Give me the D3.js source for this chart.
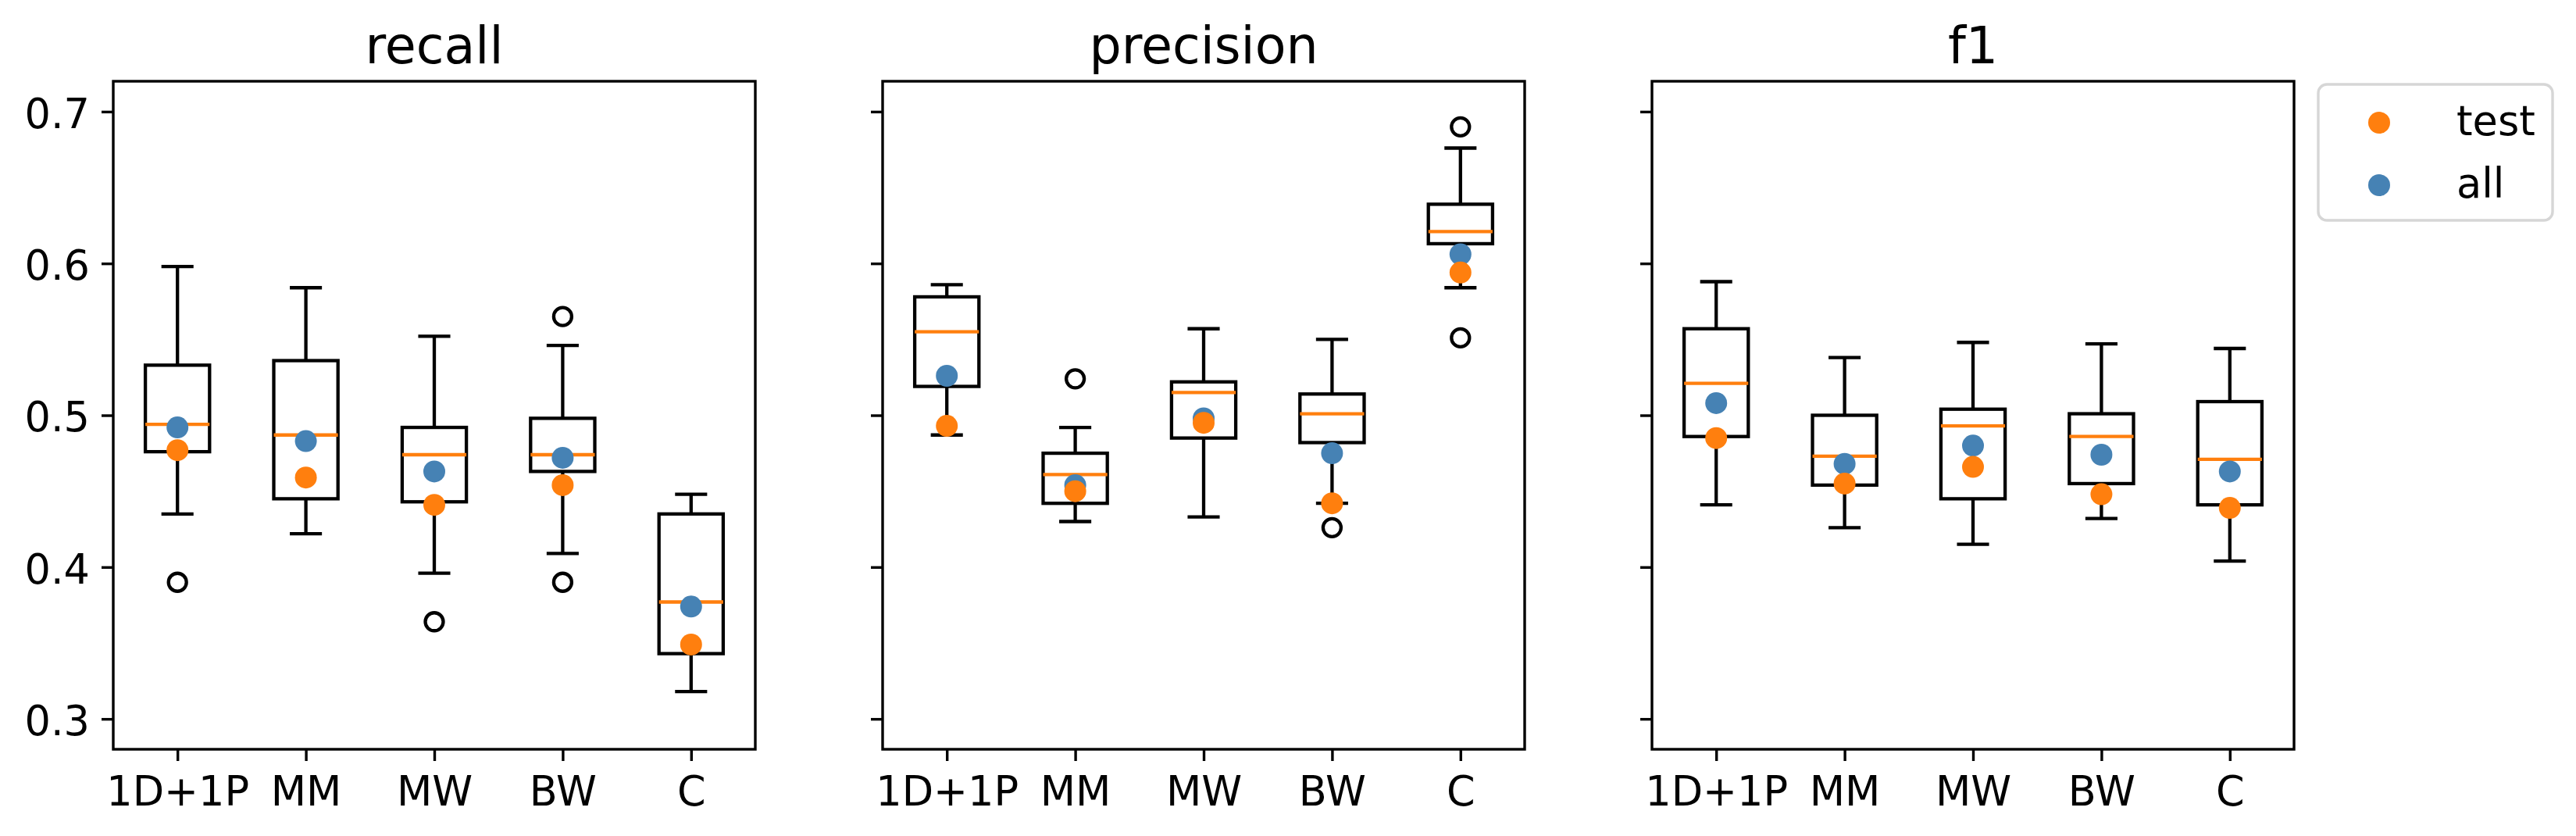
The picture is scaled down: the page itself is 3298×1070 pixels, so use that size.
<!DOCTYPE html>
<html>
<head>
<meta charset="utf-8">
<script src="https://cdn.jsdelivr.net/npm/d3@7"></script>
<style>
  body { margin: 0; background: #fff; }
  text { font-family: "DejaVu Sans", sans-serif; fill: #000; }
</style>
</head>
<body>
<svg id="chart" width="3298" height="1070"></svg>
<script>
// categories on the x axis of every panel
var categories = ['1D+1P', 'MM', 'MW', 'BW', 'C'];
var metrics = ['recall', 'precision', 'f1'];
var yTicks = [0.3, 0.4, 0.5, 0.6, 0.7];

// box stats per category: [low whisker, q1, median, q3, high whisker]
var recallBoxes = [
    [0.435, 0.476, 0.494, 0.533, 0.598],
    [0.422, 0.445, 0.487, 0.536, 0.584],
    [0.396, 0.443, 0.474, 0.492, 0.552],
    [0.409, 0.463, 0.474, 0.498, 0.546],
    [0.318, 0.343, 0.377, 0.435, 0.448]
];
var recallFliers = [[0.390], [], [0.364], [0.565, 0.390], []];
var recallTest = [0.477, 0.459, 0.441, 0.454, 0.349];
var recallAll = [0.492, 0.483, 0.463, 0.472, 0.374];

var precisionBoxes = [
    [0.487, 0.519, 0.555, 0.578, 0.586],
    [0.430, 0.442, 0.461, 0.475, 0.492],
    [0.433, 0.485, 0.515, 0.522, 0.557],
    [0.442, 0.482, 0.501, 0.514, 0.550],
    [0.584, 0.613, 0.621, 0.639, 0.676]
];
var precisionFliers = [[], [0.524], [], [0.426], [0.690, 0.551]];
var precisionTest = [0.493, 0.450, 0.495, 0.442, 0.594];
var precisionAll = [0.526, 0.454, 0.498, 0.475, 0.606];

var f1Boxes = [
    [0.441, 0.486, 0.521, 0.557, 0.588],
    [0.426, 0.454, 0.473, 0.500, 0.538],
    [0.415, 0.445, 0.493, 0.504, 0.548],
    [0.432, 0.455, 0.486, 0.501, 0.547],
    [0.404, 0.441, 0.471, 0.509, 0.544]
];
var f1Fliers = [[], [], [], [], []];
var f1Test = [0.485, 0.455, 0.466, 0.448, 0.439];
var f1All = [0.508, 0.468, 0.480, 0.474, 0.463];

var panels = [
    {boxes: recallBoxes, fliers: recallFliers, test: recallTest, all: recallAll},
    {boxes: precisionBoxes, fliers: precisionFliers, test: precisionTest, all: precisionAll},
    {boxes: f1Boxes, fliers: f1Fliers, test: f1Test, all: f1All}
];

var orange = '#ff7f0e', blue = '#4682b4';
var lw = 4.3, spineW = 3.4;
var panelLeft = [145, 1130, 2115], panelW = 822;
var plotTop = 104, plotBottom = 959;

var svg = d3.select('#chart');

var y = d3.scaleLinear().domain([0.28, 0.72]).range([plotBottom, plotTop]);
var x = d3.scaleLinear().domain([0.5, 5.5]).range([0, panelW]);

panels.forEach(function(p, pi) {
    var g = svg.append('g').attr('transform', 'translate(' + panelLeft[pi] + ',0)');

    // axes
    var yAxis = d3.axisLeft(y).tickValues(yTicks).tickSize(15).tickPadding(15)
        .tickFormat(pi === 0 ? d3.format('.1f') : function() { return ''; });
    var ya = g.append('g').call(yAxis);
    var xAxis = d3.axisBottom(x).tickValues([1, 2, 3, 4, 5]).tickSize(15).tickPadding(20)
        .tickFormat(function(d) { return categories[d - 1]; });
    var xa = g.append('g').attr('transform', 'translate(0,' + plotBottom + ')').call(xAxis);

    [ya, xa].forEach(function(a) {
        a.select('.domain').remove();
        a.selectAll('.tick line').attr('stroke', '#000').attr('stroke-width', spineW);
        a.selectAll('.tick text').attr('font-size', 52.5).attr('font-family', 'DejaVu Sans')
            .attr('fill', '#000');
    });
    ya.selectAll('.tick text').attr('dy', '0.39em');

    // boxes
    var box = g.selectAll('.box').data(p.boxes).enter().append('g').attr('class', 'box');
    var bw = x(1.25) - x(1), cw = x(1.125) - x(1);
    box.append('line')
        .attr('x1', function(d, i) { return x(i + 1); })
        .attr('x2', function(d, i) { return x(i + 1); })
        .attr('y1', function(d) { return y(d[0]); })
        .attr('y2', function(d) { return y(d[1]); });
    box.append('line')
        .attr('x1', function(d, i) { return x(i + 1); })
        .attr('x2', function(d, i) { return x(i + 1); })
        .attr('y1', function(d) { return y(d[3]); })
        .attr('y2', function(d) { return y(d[4]); });
    [0, 4].forEach(function(k) {
        box.append('line')
            .attr('x1', function(d, i) { return x(i + 1) - cw; })
            .attr('x2', function(d, i) { return x(i + 1) + cw; })
            .attr('y1', function(d) { return y(d[k]); })
            .attr('y2', function(d) { return y(d[k]); });
    });
    box.selectAll('line').attr('stroke', '#000').attr('stroke-width', lw);
    box.append('rect')
        .attr('x', function(d, i) { return x(i + 1) - bw; })
        .attr('y', function(d) { return y(d[3]); })
        .attr('width', 2 * bw)
        .attr('height', function(d) { return y(d[1]) - y(d[3]); })
        .attr('fill', 'none').attr('stroke', '#000').attr('stroke-width', lw)
        .attr('stroke-linejoin', 'miter');
    box.append('line')
        .attr('x1', function(d, i) { return x(i + 1) - bw; })
        .attr('x2', function(d, i) { return x(i + 1) + bw; })
        .attr('y1', function(d) { return y(d[2]); })
        .attr('y2', function(d) { return y(d[2]); })
        .attr('stroke', orange).attr('stroke-width', lw);

    // outliers
    var fl = [];
    p.fliers.forEach(function(vals, i) {
        vals.forEach(function(v) { fl.push({i: i, v: v}); });
    });
    g.selectAll('.flier').data(fl).enter().append('circle')
        .attr('cx', function(d) { return x(d.i + 1); })
        .attr('cy', function(d) { return y(d.v); })
        .attr('r', 11.5)
        .attr('fill', 'none').attr('stroke', '#000').attr('stroke-width', lw);

    // points: all underneath, test on top
    g.selectAll('.all').data(p.all).enter().append('circle')
        .attr('cx', function(d, i) { return x(i + 1); })
        .attr('cy', function(d) { return y(d); })
        .attr('r', 14).attr('fill', blue);
    g.selectAll('.test').data(p.test).enter().append('circle')
        .attr('cx', function(d, i) { return x(i + 1); })
        .attr('cy', function(d) { return y(d); })
        .attr('r', 14).attr('fill', orange);

    // frame
    g.append('rect')
        .attr('x', 0).attr('y', plotTop)
        .attr('width', panelW).attr('height', plotBottom - plotTop)
        .attr('fill', 'none').attr('stroke', '#000').attr('stroke-width', spineW);

    g.append('text')
        .attr('x', panelW / 2).attr('y', 81)
        .attr('text-anchor', 'middle').attr('font-size', 65)
        .text(metrics[pi]);
});

// legend
var legendItems = [{label: 'test', color: orange}, {label: 'all', color: blue}];
var lg = svg.append('g');
lg.append('rect')
    .attr('x', 2968).attr('y', 108).attr('width', 300).attr('height', 174)
    .attr('rx', 11).attr('fill', '#fff').attr('stroke', '#d6d6d6').attr('stroke-width', 3.4);
var li = lg.selectAll('.item').data(legendItems).enter().append('g')
    .attr('transform', function(d, i) { return 'translate(0,' + (157 + i * 80) + ')'; });
li.append('circle').attr('cx', 3046).attr('cy', 0).attr('r', 14)
    .attr('fill', function(d) { return d.color; });
li.append('text').attr('x', 3145).attr('y', 16).attr('font-size', 52.5)
    .text(function(d) { return d.label; });
</script>
</body>
</html>
